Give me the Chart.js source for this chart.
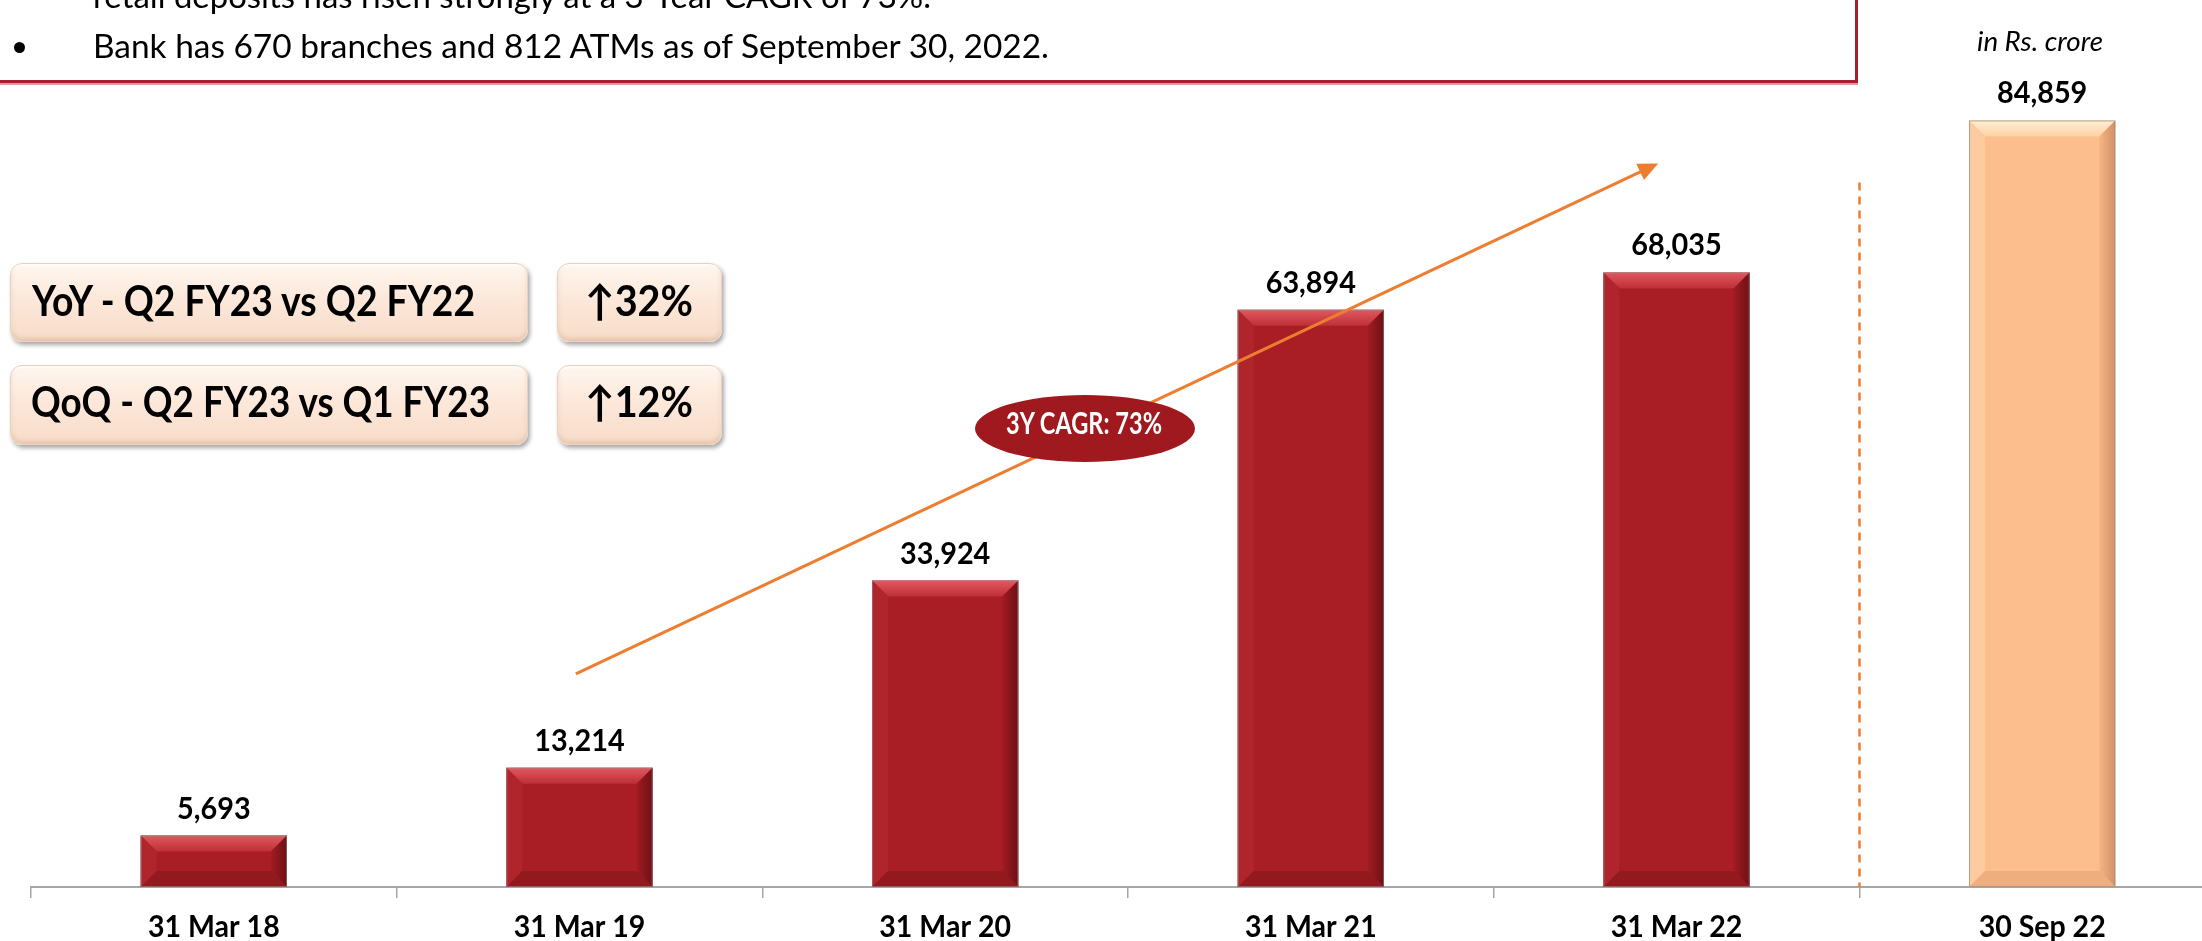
<!DOCTYPE html>
<html>
<head>
<meta charset="utf-8">
<script src="https://cdn.jsdelivr.net/npm/chart.js@4.4.0/dist/chart.umd.min.js"></script>
<style>
    html, body { margin: 0; padding: 0; background: #fff; overflow: hidden; width: 2202px; height: 941px; }
    #wrap { position: relative; width: 2202px; height: 941px; overflow: hidden; }
    #chart { position: absolute; left: 0; top: 0; }
    .t { position: absolute; white-space: nowrap; line-height: 1.2; font-family: Lato, 'Open Sans', sans-serif; color: #000; }
    .note { position: absolute; left: -20px; top: -40px; width: 1878px; height: 123px; box-sizing: border-box;
            border: 3px solid #A4202E; box-shadow: 0 2px 0 #dc9aa1; }
    .dot { position: absolute; left: 14px; top: 42px; width: 11px; height: 11px; border-radius: 50%; background: #000; }
    .pill { position: absolute; border-radius: 12px; border: 1px solid #ead0bd; box-sizing: border-box;
            background: linear-gradient(#fff6ef, #fce8da 45%, #f8dcc9);
            box-shadow: 2px 3px 4px rgba(0,0,0,0.35), inset 0 -3px 4px rgba(180,130,100,0.25), inset 0 2px 2px rgba(255,255,255,0.8); }
    .oval { position: absolute; left: 975px; top: 395px; width: 220px; height: 67px; border-radius: 50%; background: #A0191F; }
    .b { font-weight: bold; }
</style>
</head>
<body>
<div id="wrap">
    <canvas id="chart" width="2225" height="941"></canvas>

    <div class="note"></div>
    <span class="t" id="line1" style="left:93px; top:-23px; font-size:32px;">retail deposits has risen strongly at a 3-Year CAGR of 73%.</span>
    <div class="dot"></div>
    <span class="t" id="line2" style="left:93px; top:27px; font-size:32px;">Bank has 670 branches and 812 ATMs as of September 30, 2022.</span>
    <span class="t" id="unit" style="left:1977px; top:25px; font-size:27px; font-style:italic;">in Rs. crore</span>

    <div class="pill" style="left:10px; top:263px; width:518px; height:79px;"></div>
    <div class="pill" style="left:557px; top:263px; width:165px; height:79px;"></div>
    <div class="pill" style="left:10px; top:365px; width:518px; height:80px;"></div>
    <div class="pill" style="left:557px; top:365px; width:165px; height:80px;"></div>
    <span class="t b" id="yoy" style="left:32px; top:275px; font-size:42px;">YoY - Q2 FY23 vs Q2 FY22</span>
    <span class="t b" id="yoyPct" style="left:585px; top:275px; font-size:42px;">↑32%</span>
    <span class="t b" id="qoq" style="left:31px; top:376px; font-size:42px;">QoQ - Q2 FY23 vs Q1 FY23</span>
    <span class="t b" id="qoqPct" style="left:585px; top:376px; font-size:42px;">↑12%</span>

    <div class="oval"></div>
    <span class="t b" id="cagr" style="left:1006px; top:404px; font-size:30px; color:#fff;">3Y CAGR: 73%</span>
</div>

<script>
// Retail deposits, in Rs. crore
const categories = ['31 Mar 18', '31 Mar 19', '31 Mar 20', '31 Mar 21', '31 Mar 22', '30 Sep 22'];
const deposits = [5693, 13214, 33924, 63894, 68035, 84859];

// bar look: red for year ends, peach for the latest quarter
const red = { base: '#A81E24', topHi: '#E2585F', topLo: '#BE2F36', left: '#B0252B',
              rightLo: '#A01C22', rightHi: '#6E1015', bottom: '#921A1F', edge: 'rgba(140,140,140,0.6)' };
const peach = { base: '#FCBE8C', topHi: '#FFEFD3', topLo: '#FDD2A6', left: '#FDCBA0',
                rightLo: '#F6B583', rightHi: '#D29167', bottom: '#EFAE7D', edge: 'rgba(150,140,130,0.7)' };
const shades = [red, red, red, red, red, peach];

function poly(ctx, pts, fill) {
    ctx.beginPath();
    ctx.moveTo(pts[0][0], pts[0][1]);
    for (let i = 1; i < pts.length; i++) ctx.lineTo(pts[i][0], pts[i][1]);
    ctx.closePath();
    ctx.fillStyle = fill;
    ctx.fill();
}

function bevel(ctx, bar, s) {
    const L = bar.x - bar.width / 2, R = bar.x + bar.width / 2, T = bar.y, B = bar.base;
    const d = Math.min(16, (B - T) / 2, bar.width / 2);
    let g = ctx.createLinearGradient(0, T, 0, T + d);
    g.addColorStop(0, s.topHi);
    g.addColorStop(1, s.topLo);
    poly(ctx, [[L, T], [R, T], [R - d, T + d], [L + d, T + d]], g);
    poly(ctx, [[L, T], [L + d, T + d], [L + d, B - d], [L, B]], s.left);
    g = ctx.createLinearGradient(R - d, 0, R, 0);
    g.addColorStop(0, s.rightLo);
    g.addColorStop(1, s.rightHi);
    poly(ctx, [[R, T], [R, B], [R - d, B - d], [R - d, T + d]], g);
    poly(ctx, [[L, B], [L + d, B - d], [R - d, B - d], [R, B]], s.bottom);
    ctx.strokeStyle = s.edge;
    ctx.lineWidth = 1;
    ctx.strokeRect(L + 0.5, T + 0.5, R - L - 1, B - T - 1);
}

// Lato is wider than the original font, so squeeze it a bit
function squeezed(ctx, text, x, y, k) {
    ctx.save();
    ctx.translate(x, y);
    ctx.scale(k, 1);
    ctx.fillText(text, 0, 0);
    ctx.restore();
}

const extras = {
    id: 'extras',
    afterDatasetsDraw(chart) {
        const ctx = chart.ctx;
        const xs = chart.scales.x, ys = chart.scales.y;
        const bars = chart.getDatasetMeta(0).data;
        ctx.save();

        bars.forEach((bar, i) => bevel(ctx, bar, shades[i]));

        // dashed divider before the half-year bar
        const dx = Math.round(xs.getPixelForValue(4.5)) + 0.5;
        ctx.strokeStyle = '#ED7D31';
        ctx.lineWidth = 2.5;
        ctx.setLineDash([8, 6]);
        ctx.beginPath();
        ctx.moveTo(dx, ys.getPixelForValue(78000));
        ctx.lineTo(dx, ys.getPixelForValue(0));
        ctx.stroke();
        ctx.setLineDash([]);

        // CAGR trend arrow
        const x1 = xs.getPixelForValue(0.99), y1 = ys.getPixelForValue(23600);
        const x2 = xs.getPixelForValue(3.95), y2 = ys.getPixelForValue(80100);
        const a = Math.atan2(y2 - y1, x2 - x1);
        ctx.lineWidth = 3;
        ctx.beginPath();
        ctx.moveTo(x1, y1);
        ctx.lineTo(x2 - 14 * Math.cos(a), y2 - 14 * Math.sin(a));
        ctx.stroke();
        ctx.translate(x2, y2);
        ctx.rotate(a);
        poly(ctx, [[0, 0], [-20, -9], [-20, 9]], '#ED7D31');
        ctx.setTransform(1, 0, 0, 1, 0, 0);

        ctx.fillStyle = '#000';
        ctx.font = 'bold 31px Lato, sans-serif';
        ctx.textAlign = 'center';
        ctx.textBaseline = 'alphabetic';
        // value labels
        bars.forEach((bar, i) => {
            squeezed(ctx, deposits[i].toLocaleString('en-US'), bar.x, bar.y - 17, 0.93);
        });
        // category labels under the axis
        categories.forEach((c, i) => {
            squeezed(ctx, c, xs.getPixelForValue(i), xs.top + 50, 0.92);
        });
        ctx.restore();
    }
};

new Chart(document.getElementById('chart'), {
    type: 'bar',
    data: {
        labels: categories,
        datasets: [{
            data: deposits,
            backgroundColor: shades.map(s => s.base),
            borderWidth: 0,
            categoryPercentage: 1,
            barPercentage: 0.4
        }]
    },
    options: {
        responsive: false,
        animation: false,
        layout: { padding: { top: 74, left: 31, right: 0, bottom: 0 } },
        plugins: { legend: { display: false }, tooltip: { enabled: false } },
        scales: {
            x: {
                grid: { drawOnChartArea: false, tickLength: 11, color: '#A6A6A6', lineWidth: 1.5, offset: true },
                border: { color: '#A6A6A6', width: 2 },
                ticks: { display: false },
                afterFit: scale => { scale.height = 54; }
            },
            y: { display: false, min: 0, max: 90000 }
        }
    },
    plugins: [extras]
});

// squeeze the annotation text to the widths of the original (narrower) font
function fit(id, w) {
    const el = document.getElementById(id);
    const k = w / el.getBoundingClientRect().width;
    el.style.transformOrigin = 'left top';
    el.style.transform = 'scaleX(' + k + ')';
}
fit('line1', 838);
fit('line2', 956);
fit('unit', 126);
fit('yoy', 443);
fit('yoyPct', 108);
fit('qoq', 459);
fit('qoqPct', 108);
fit('cagr', 156);
</script>
</body>
</html>
